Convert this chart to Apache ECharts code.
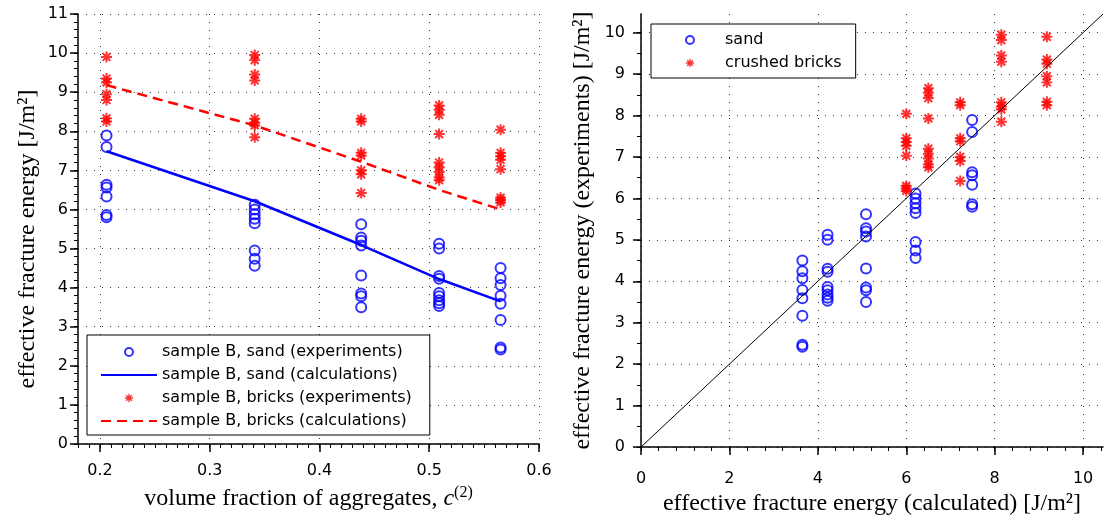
<!DOCTYPE html>
<html>
<head>
<meta charset="utf-8">
<script src="https://cdn.jsdelivr.net/npm/echarts@6/dist/echarts.min.js"></script>
<style>
  html, body { margin: 0; padding: 0; background: #fff; }
  #chart { width: 1107px; height: 521px; }
</style>
</head>
<body>
<div id="chart"></div>
<script>
// Volume fractions of aggregates c(2), sample B
const fractions = [0.206, 0.341, 0.438, 0.509, 0.565];

// Measured effective fracture energy [J/m2], one list per volume fraction
const sandExperiments = [
  [7.89, 7.60, 6.63, 6.56, 6.33, 5.86, 5.80],
  [6.12, 6.00, 5.88, 5.76, 5.65, 4.95, 4.74, 4.56],
  [5.62, 5.28, 5.20, 5.08, 4.31, 3.85, 3.78, 3.50],
  [5.12, 5.00, 4.30, 4.23, 3.86, 3.78, 3.68, 3.60, 3.53],
  [4.50, 4.24, 4.07, 3.79, 3.59, 3.17, 2.47, 2.42]
];
const bricksExperiments = [
  [9.90, 9.35, 9.25, 8.95, 8.80, 8.33, 8.25],
  [9.95, 9.82, 9.45, 9.30, 8.32, 8.22, 8.15, 7.85],
  [8.32, 8.25, 7.45, 7.38, 7.00, 6.90, 6.42],
  [8.66, 8.55, 8.42, 7.93, 7.20, 7.08, 6.96, 6.82, 6.75],
  [8.04, 7.45, 7.36, 7.27, 7.03, 6.30, 6.24, 6.18]
];

// Calculated effective fracture energy [J/m2] per volume fraction
const sandCalculated = [7.49, 6.21, 5.09, 4.22, 3.65];
const bricksCalculated = [9.18, 8.15, 7.22, 6.50, 6.00];

// Tick labels
const fractionTicks = [0.2, 0.3, 0.4, 0.5, 0.6];
const energyTicksLeft = [0, 1, 2, 3, 4, 5, 6, 7, 8, 9, 10, 11];
const calculatedTicks = [0, 2, 4, 6, 8, 10];
const experimentTicks = [0, 1, 2, 3, 4, 5, 6, 7, 8, 9, 10];

// Axis ranges
const fractionRange = [0.18, 0.6];
const energyRangeLeft = [0, 11];
const parityRange = [0, 10.45];

// Legend names
const leftNames = [
  'sample B, sand (experiments)',
  'sample B, sand (calculations)',
  'sample B, bricks (experiments)',
  'sample B, bricks (calculations)'
];
const rightNames = ['sand', 'crushed bricks'];

// ---- helpers ----
function steps(from, to, step) {
  const out = [];
  const n = Math.round((to - from) / step);
  for (let i = 0; i <= n; i++) out.push(Math.round((from + i * step) * 1000) / 1000);
  return out;
}
function pairsAt(xs, groups) {
  const out = [];
  groups.forEach((g, i) => g.forEach(v => out.push([xs[i], v])));
  return out;
}
function linePairs(xs, ys) {
  return xs.map((x, i) => [x, ys[i]]);
}

const BLUE = '#0000ff';
const RED = '#ff0000';
const SANS = 'DejaVu Sans';
const SERIF = 'Liberation Serif';

// Asterisk marker built from four bars
const STAR = 'path://M8.2 0H11.8V20H8.2Z M0 8.2H20V11.8H0Z ' +
  'M4.2 1.6L18.4 15.8L15.8 18.4L1.6 4.2Z ' +
  'M15.8 1.6L18.4 4.2L4.2 18.4L1.6 15.8Z';

const gridLine = { show: true, lineStyle: { color: '#333', width: 1, type: [1, 7] } };
const axisLine = { show: true, onZero: false, lineStyle: { color: '#000', width: 1.5 } };
const tickStyle = { color: '#000', width: 1.5 };
const labelFont = { fontFamily: SANS, fontSize: 16, color: '#000' };
const nameFont = { fontFamily: SERIF, fontSize: 24, color: '#000' };

function mainAxis(opts) {
  return Object.assign({
    type: 'value',
    axisLine: axisLine,
    axisTick: { show: true, inside: false, length: 8, customValues: opts.ticks, lineStyle: tickStyle },
    axisLabel: Object.assign({ customValues: opts.ticks, margin: opts.margin }, labelFont),
    splitLine: gridLine,
    nameLocation: 'middle',
    nameTextStyle: nameFont
  }, opts.extra);
}
function minorAxis(gridIndex, position, range, values) {
  return {
    type: 'value', gridIndex: gridIndex, position: position,
    min: range[0], max: range[1],
    axisLine: { show: false },
    axisLabel: { show: false },
    splitLine: { show: false },
    axisTick: { show: true, inside: false, length: 4, customValues: values, lineStyle: { color: '#000', width: 1 } }
  };
}
// legend entries; line entries show only their stroke
function legendItems(names, lineFlags) {
  return names.map((n, i) => lineFlags[i]
    ? { name: n, itemStyle: { opacity: 0 } }
    : { name: n });
}
const legendBase = {
  orient: 'vertical',
  itemWidth: 56, itemHeight: 8, itemGap: 7,
  borderColor: '#000', borderWidth: 1, borderRadius: 0,
  backgroundColor: '#fff',
  selectedMode: false,
  textStyle: { fontFamily: SANS, fontSize: 16, color: '#000', lineHeight: 16 }
};

const chart = echarts.init(document.getElementById('chart'), null, { renderer: 'canvas' });

chart.setOption({
  animation: false,
  backgroundColor: '#fff',
  grid: [
    { left: 78, top: 14, width: 461, height: 430 },
    { left: 641, top: 14, width: 462, height: 433 }
  ],
  xAxis: [
    mainAxis({
      ticks: fractionTicks, margin: 19,
      extra: {
        gridIndex: 0, position: 'bottom', min: fractionRange[0], max: fractionRange[1],
        name: '{a|volume fraction of aggregates, }{c|c}{s|(2)}',
        nameGap: 41,
        nameTextStyle: {
          rich: {
            a: { fontFamily: SERIF, fontSize: 24, color: '#000', lineHeight: 28 },
            c: { fontFamily: SERIF, fontSize: 24, fontStyle: 'italic', color: '#000', lineHeight: 28 },
            s: { fontFamily: SERIF, fontSize: 16, color: '#000', lineHeight: 16, verticalAlign: 'top' }
          }
        }
      }
    }),
    minorAxis(0, 'bottom', fractionRange, steps(0.18, 0.6, 0.01)),
    mainAxis({
      ticks: calculatedTicks, margin: 24,
      extra: {
        gridIndex: 1, position: 'bottom', min: parityRange[0], max: parityRange[1],
        name: 'effective fracture energy (calculated) [J/m\u00B2]',
        nameGap: 38
      }
    }),
    minorAxis(1, 'bottom', parityRange, steps(0, 10.4, 0.4))
  ],
  yAxis: [
    mainAxis({
      ticks: energyTicksLeft, margin: 10,
      extra: {
        gridIndex: 0, position: 'left', min: energyRangeLeft[0], max: energyRangeLeft[1],
        name: 'effective fracture energy [J/m\u00B2]',
        nameGap: 38,
        nameTextStyle: Object.assign({ padding: [0, 20, 0, 0] }, nameFont)
      }
    }),
    minorAxis(0, 'left', energyRangeLeft, steps(0, 11, 0.2)),
    mainAxis({
      ticks: experimentTicks, margin: 16,
      extra: {
        gridIndex: 1, position: 'left', min: parityRange[0], max: parityRange[1],
        name: 'effective fracture energy (experiments) [J/m\u00B2]',
        nameGap: 46
      }
    }),
    minorAxis(1, 'left', parityRange, steps(0, 10, 0.5))
  ],
  legend: [
    Object.assign({}, legendBase, {
      data: legendItems(leftNames, [false, true, false, true]),
      left: 87, top: 335,
      padding: [9, 18, 6, 13]
    }),
    Object.assign({}, legendBase, {
      data: legendItems(rightNames, [false, false]),
      left: 651, top: 24,
      itemWidth: 60,
      padding: [8, 14, 7, 34]
    })
  ],
  series: [
    // left panel: energy vs. volume fraction
    {
      name: leftNames[0], type: 'scatter', xAxisIndex: 0, yAxisIndex: 0,
      symbol: 'circle', symbolSize: 10, silent: true,
      itemStyle: { color: 'rgba(0,0,0,0)', borderColor: BLUE, borderWidth: 2 },
      data: pairsAt(fractions, sandExperiments)
    },
    {
      name: leftNames[1], type: 'line', xAxisIndex: 0, yAxisIndex: 0,
      symbol: 'none', silent: true,
      itemStyle: { color: BLUE },
      lineStyle: { color: BLUE, width: 2.5 },
      data: linePairs(fractions, sandCalculated)
    },
    {
      name: leftNames[2], type: 'scatter', xAxisIndex: 0, yAxisIndex: 0,
      symbol: STAR, symbolSize: 11, silent: true,
      itemStyle: { color: RED },
      data: pairsAt(fractions, bricksExperiments)
    },
    {
      name: leftNames[3], type: 'line', xAxisIndex: 0, yAxisIndex: 0,
      symbol: 'none', silent: true,
      itemStyle: { color: RED },
      lineStyle: { color: RED, width: 2.5, type: [10, 6] },
      data: linePairs(fractions, bricksCalculated)
    },
    // right panel: experiments vs. calculations
    {
      name: 'identity', type: 'line', xAxisIndex: 2, yAxisIndex: 2,
      symbol: 'none', silent: true,
      lineStyle: { color: '#000', width: 1 },
      data: linePairs(parityRange, parityRange)
    },
    {
      name: rightNames[0], type: 'scatter', xAxisIndex: 2, yAxisIndex: 2,
      symbol: 'circle', symbolSize: 10, silent: true,
      itemStyle: { color: 'rgba(0,0,0,0)', borderColor: BLUE, borderWidth: 2 },
      data: pairsAt(sandCalculated, sandExperiments)
    },
    {
      name: rightNames[1], type: 'scatter', xAxisIndex: 2, yAxisIndex: 2,
      symbol: STAR, symbolSize: 11, silent: true,
      itemStyle: { color: RED },
      data: pairsAt(bricksCalculated, bricksExperiments)
    }
  ]
});
</script>
</body>
</html>
